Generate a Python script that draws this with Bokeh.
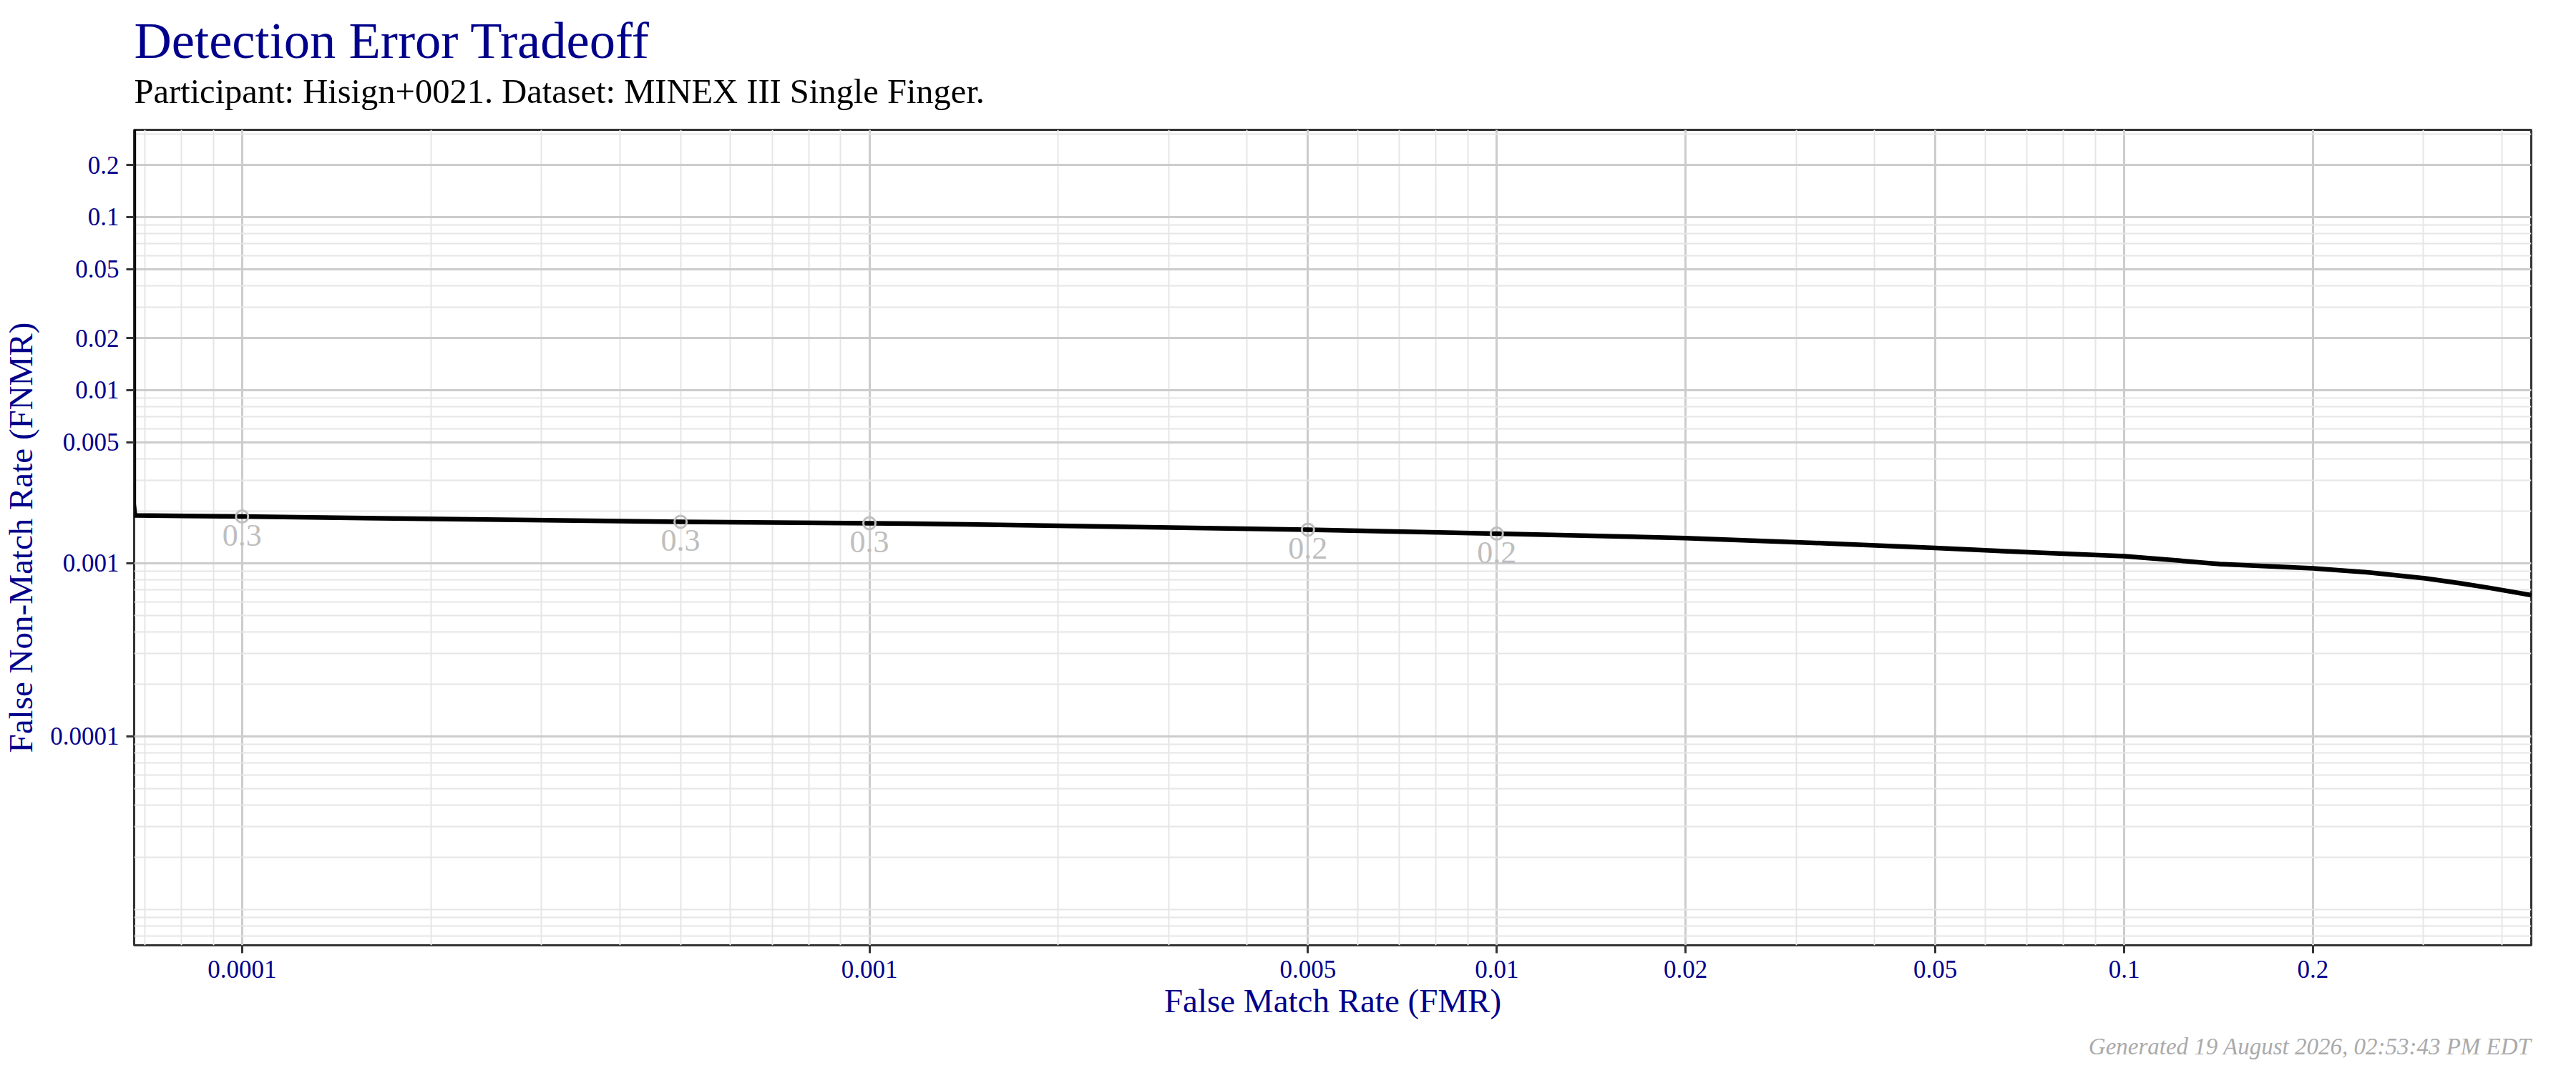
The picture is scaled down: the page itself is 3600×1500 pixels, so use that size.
import numpy as np
from bokeh.plotting import figure
from bokeh.models import Range1d, FixedTicker, CustomJSTickFormatter, Title
from bokeh.core.properties import value
from bokeh.embed import file_html
from bokeh.resources import INLINE

# ---- data ----
fmr = [6.72e-5, 6.72e-5, 6.75e-5, 1.0e-4, 5.0e-4, 1.0e-3, 1.42e-3, 5.0e-3, 1.0e-2,
       2.0e-2, 3.33e-2, 5.0e-2, 7.06e-2, 0.1, 0.142, 0.2, 0.247, 0.302, 0.344,
       0.384, 0.446]
fnmr = [1.0, 0.0022, 0.00189, 0.001862, 0.001737, 0.001703, 0.001679, 0.001564,
        0.001482, 0.001399, 0.001305, 0.001225, 0.001157, 0.0011, 0.000991,
        0.000936, 0.000884, 0.000819, 0.000766, 0.000719, 0.000654]

mark_fmr = [1e-4, 5e-4, 1e-3, 5e-3, 1e-2]
mark_fnmr = [0.001862, 0.001737, 0.001703, 0.001564, 0.001482]
mark_labels = ["0.3", "0.3", "0.3", "0.2", "0.2"]

x_tick_values = [0.0001, 0.001, 0.005, 0.01, 0.02, 0.05, 0.1, 0.2]
x_tick_labels = ["0.0001", "0.001", "0.005", "0.01", "0.02", "0.05", "0.1", "0.2"]
y_tick_values = [0.0001, 0.001, 0.005, 0.01, 0.02, 0.05, 0.1, 0.2]
y_tick_labels = ["0.0001", "0.001", "0.005", "0.01", "0.02", "0.05", "0.1", "0.2"]

x_limits = (6.73e-5, 0.4456)
y_limits = (6.21e-6, 0.3191)

title_text = "Detection Error Tradeoff"
subtitle_text = "Participant: Hisign+0021. Dataset: MINEX III Single Finger."
footer_text = "Generated 19 August 2026, 02:53:43 PM EDT"
x_title = "False Match Rate (FMR)"
y_title = "False Non-Match Rate (FNMR)"

FONT = "Liberation Serif"
NAVY = "#00008B"


def minor_values(lo, hi):
    out = []
    for e in range(-7, 1):
        for k in range(1, 10):
            v = k * 10.0 ** e
            if lo <= v <= hi:
                out.append(v)
    return out


p = figure(
    x_axis_type="log", y_axis_type="log",
    x_range=Range1d(*x_limits), y_range=Range1d(*y_limits),
    frame_width=3350, frame_height=1140,
    min_border_left=181, min_border_right=53,
    min_border_top=181, min_border_bottom=10,
    output_backend="svg", toolbar_location=None, title=None,
    background_fill_color="white", border_fill_color="white",
)

# titles (first added sits closest to the frame)
spacer = Title(text=" ", text_font=FONT, text_font_size="1px", standoff=25,
               text_color="white")
p.add_layout(spacer, "above")
sub = Title(text=subtitle_text, text_font=FONT, text_font_size="48.5px",
            text_font_style="normal", text_color="black", align="left",
            standoff=0)
p.add_layout(sub, "above")
main = Title(text=title_text, text_font=FONT, text_font_size="72.5px",
             text_font_style="normal", text_color=NAVY, align="left",
             standoff=4)
p.add_layout(main, "above")
foot = Title(text=footer_text, text_font=FONT, text_font_size="33px",
             text_font_style="italic", text_color="#AAAAAA", align="right",
             standoff=30)
p.add_layout(foot, "below")

# tickers / grids
xt = FixedTicker(ticks=x_tick_values, minor_ticks=minor_values(*x_limits))
yt = FixedTicker(ticks=y_tick_values, minor_ticks=minor_values(*y_limits))
fmt_code = """
for (let i = 0; i < vals.length; i++) {
  if (Math.abs(tick - vals[i]) <= 1e-9 * vals[i]) { return labs[i]; }
}
return "";
"""
p.xaxis.ticker = xt
p.yaxis.ticker = yt
p.xgrid.ticker = xt
p.ygrid.ticker = yt
p.xaxis.formatter = CustomJSTickFormatter(args=dict(vals=x_tick_values, labs=x_tick_labels), code=fmt_code)
p.yaxis.formatter = CustomJSTickFormatter(args=dict(vals=y_tick_values, labs=y_tick_labels), code=fmt_code)

for g in (p.xgrid, p.ygrid):
    g.grid_line_color = "#CCCCCC"
    g.grid_line_width = 3
    g.minor_grid_line_color = "#E6E6E6"
    g.minor_grid_line_width = 2

for ax in (p.xaxis, p.yaxis):
    ax.axis_line_color = None
    ax.major_tick_in = 0
    ax.major_tick_out = 11
    ax.major_tick_line_width = 3
    ax.major_tick_line_color = "#333333"
    ax.minor_tick_line_color = None
    ax.major_label_text_font = FONT
    ax.major_label_text_font_size = "35px"
    ax.major_label_text_color = NAVY
    ax.axis_label_text_font = FONT
    ax.axis_label_text_font_size = "47px"
    ax.axis_label_text_font_style = "normal"
    ax.axis_label_text_color = NAVY

p.xaxis.axis_label = x_title
p.yaxis.axis_label = y_title
p.xaxis.major_label_standoff = 10
p.xaxis.axis_label_standoff = 3
p.yaxis.major_label_standoff = 10
p.yaxis.axis_label_standoff = 12

p.outline_line_color = "#333333"
p.outline_line_width = 3

# curve
p.line(fmr, fnmr, line_color="black", line_width=6.5, line_join="round")

# threshold markers and labels
p.scatter(mark_fmr, mark_fnmr, marker="circle", size=17, fill_color=None,
          line_color="#BEBEBE", line_width=3)
p.text(mark_fmr, mark_fnmr, text=mark_labels, text_align="center",
       text_baseline="alphabetic", y_offset=26, text_color="#BEBEBE",
       text_font=value(FONT), text_font_size="44px")

open("out.html", "w").write(file_html(p, INLINE))
